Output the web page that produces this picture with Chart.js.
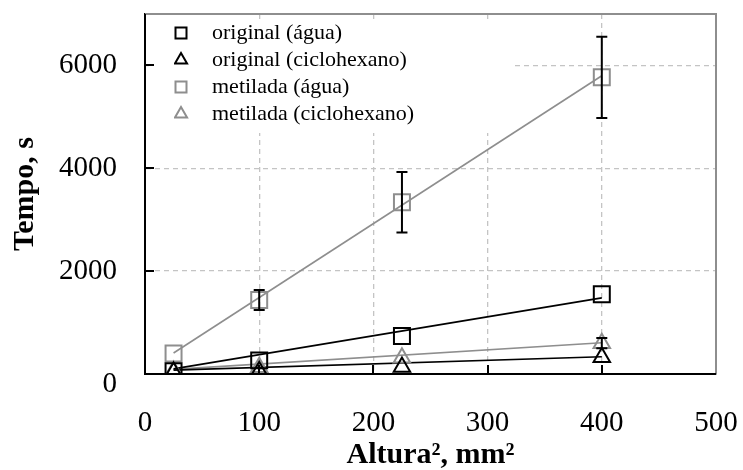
<!DOCTYPE html>
<html>
<head>
<meta charset="utf-8">
<script src="https://cdn.jsdelivr.net/npm/chart.js@4"></script>
<style>
  html, body { margin: 0; padding: 0; background: #fff; }
  #wrap { width: 743px; height: 470px; position: relative; }
</style>
</head>
<body>
<div id="wrap"><canvas id="c"></canvas></div>
<script>
// ---- data ----
const alturas2 = [25, 100, 225, 400];
const originalAgua = [55, 265, 740, 1550];
const originalCiclo = [40, 55, 136, 325];
const metiladaAgua = [400, 1440, 3340, 5770];
const metiladaAguaErr = [0, 195, 590, 790];
const metiladaCiclo = [60, 130, 315, 600];
const metiladaCicloErr = [0, 0, 0, 100];

const fitX = [25, 400];
const fitOriginalAgua = [100, 1480];
const fitOriginalCiclo = [75, 336];
const fitMetiladaAgua = [408, 5800];
const fitMetiladaCiclo = [90, 608];

const seriesLabels = ['original (água)', 'original (ciclohexano)', 'metilada (água)', 'metilada (ciclohexano)'];
const xTickValues = [0, 100, 200, 300, 400, 500];
const yTickValues = [0, 2000, 4000, 6000];
const xTitle = 'Altura², mm²';
const yTitle = 'Tempo, s';

// ---- styles ----
const BLACK = '#000000';
const GRAY = '#8e8e8e';
const SERIF = '"Liberation Serif", "Times New Roman", serif';

const pts = (xs, ys) => xs.map((x, i) => ({ x: x, y: ys[i] }));

function markerSet(label, ys, color, style, errs) {
  return {
    type: 'scatter',
    label: label,
    data: pts(alturas2, ys),
    errors: errs || null,
    showLine: false,
    pointStyle: style,
    pointRadius: style === 'rect' ? 11.3 : 9.5,
    pointBorderWidth: 2,
    pointBorderColor: color,
    pointBackgroundColor: 'rgba(0,0,0,0)',
    borderColor: color,
    backgroundColor: 'rgba(0,0,0,0)',
    borderWidth: 2
  };
}
function fitSet(ys, color) {
  return {
    type: 'line',
    label: '',
    data: pts(fitX, ys),
    borderColor: color,
    borderWidth: 1.6,
    pointRadius: 0,
    fill: false,
    tension: 0
  };
}

const datasets = [
  markerSet(seriesLabels[0], originalAgua, BLACK, 'rect'),
  markerSet(seriesLabels[1], originalCiclo, BLACK, 'triangle'),
  markerSet(seriesLabels[2], metiladaAgua, GRAY, 'rect', metiladaAguaErr),
  markerSet(seriesLabels[3], metiladaCiclo, GRAY, 'triangle', metiladaCicloErr),
  fitSet(fitOriginalAgua, BLACK),
  fitSet(fitOriginalCiclo, BLACK),
  fitSet(fitMetiladaAgua, GRAY),
  fitSet(fitMetiladaCiclo, GRAY)
];

// legend icon: small outlined marker, drawn left of the icon centre so the text sits further right
const ICON_SHIFT = 9;
function legendIcon(style, color) {
  const w = 40, h = 20;
  const cv = document.createElement('canvas');
  cv.width = w; cv.height = h;
  const c = cv.getContext('2d');
  const cx = w / 2 - ICON_SHIFT, cy = h / 2;
  c.strokeStyle = color;
  c.lineWidth = 2;
  c.beginPath();
  if (style === 'rect') {
    c.rect(cx - 5.5, cy - 5.5, 11, 11);
  } else {
    const r = 7;
    c.moveTo(cx, cy - r);
    c.lineTo(cx + r * 0.866, cy + r * 0.5);
    c.lineTo(cx - r * 0.866, cy + r * 0.5);
    c.closePath();
  }
  c.stroke();
  return cv;
}

// move legend inside plot area (library legend, positioned after layout)
const legendPlace = {
  id: 'legendPlace',
  afterLayout(chart) {
    const lg = chart.legend, ca = chart.chartArea;
    if (!lg) return;
    const w = lg.width, h = lg.height;
    lg.left = ca.left + 29;
    lg.top = ca.top + 3;
    lg.right = lg.left + w;
    lg.bottom = lg.top + h;
  }
};

// white panel behind the legend (hides grid lines there), then legend on it
const legendPanel = {
  id: 'legendPanel',
  beforeDatasetsDraw(chart) {
    const lg = chart.legend, ca = chart.chartArea;
    if (!lg || !lg.legendHitBoxes || !lg.legendHitBoxes.length) return;
    const boxes = lg.legendHitBoxes;
    const last = boxes[boxes.length - 1];
    let maxR = 0;
    boxes.forEach(b => { maxR = Math.max(maxR, b.left + b.width); });
    const ctx = chart.ctx;
    ctx.save();
    ctx.fillStyle = '#ffffff';
    const x0 = ca.left + 4, y0 = ca.top + 5;
    ctx.fillRect(x0, y0, (maxR + 100) - x0, (last.top + last.height + 8) - y0);
    ctx.restore();
    lg.draw(ca);
  }
};

// error bars, drawn through the scales
const errorBars = {
  id: 'errorBars',
  afterDatasetsDraw(chart) {
    const xs = chart.scales.x, ys = chart.scales.y, ctx = chart.ctx;
    ctx.save();
    ctx.strokeStyle = BLACK;
    ctx.lineWidth = 2;
    chart.data.datasets.forEach(ds => {
      if (!ds.errors) return;
      ds.data.forEach((p, i) => {
        const e = ds.errors[i];
        if (!e) return;
        const px = xs.getPixelForValue(p.x);
        const pTop = ys.getPixelForValue(p.y + e);
        const pBot = ys.getPixelForValue(p.y - e);
        const cap = 5.5;
        ctx.beginPath();
        ctx.moveTo(px, pTop); ctx.lineTo(px, pBot);
        ctx.moveTo(px - cap, pTop); ctx.lineTo(px + cap, pTop);
        ctx.moveTo(px - cap, pBot); ctx.lineTo(px + cap, pBot);
        ctx.stroke();
      });
    });
    ctx.restore();
  }
};

// inner tick marks and frame
const frame = {
  id: 'frame',
  afterDraw(chart) {
    const ca = chart.chartArea, ctx = chart.ctx;
    const xs = chart.scales.x, ys = chart.scales.y;
    ctx.save();
    ctx.strokeStyle = GRAY;
    ctx.lineWidth = 2;
    ctx.beginPath();
    ctx.moveTo(ca.left, ca.top); ctx.lineTo(ca.right, ca.top); ctx.lineTo(ca.right, ca.bottom);
    ctx.stroke();
    ctx.strokeStyle = BLACK;
    ctx.lineWidth = 2;
    ctx.beginPath();
    xTickValues.forEach(v => {
      if (v <= xs.min || v >= xs.max) return;
      const px = Math.round(xs.getPixelForValue(v));
      ctx.moveTo(px, ca.bottom); ctx.lineTo(px, ca.bottom - 9);
    });
    yTickValues.forEach(v => {
      if (v <= ys.min || v >= ys.max) return;
      const py = Math.round(ys.getPixelForValue(v));
      ctx.moveTo(ca.left, py); ctx.lineTo(ca.left + 9, py);
    });
    ctx.stroke();
    ctx.beginPath();
    ctx.moveTo(ca.left, ca.top); ctx.lineTo(ca.left, ca.bottom); ctx.lineTo(ca.right, ca.bottom);
    ctx.stroke();
    ctx.restore();
  }
};

const gridColor = (ctx) => (ctx.tick && ctx.tick.value === 0) ? 'rgba(0,0,0,0)' : '#c4c4c4';

new Chart(document.getElementById('c'), {
  type: 'scatter',
  data: { datasets: datasets },
  plugins: [legendPlace, legendPanel, errorBars, frame],
  options: {
    responsive: true,
    maintainAspectRatio: false,
    animation: false,
    layout: { padding: { top: 14, right: 27, bottom: 0, left: 0 } },
    plugins: {
      tooltip: { enabled: false },
      legend: {
        display: true,
        position: 'chartArea',
        align: 'start',
        labels: {
          filter: (item) => item.text !== '',
          usePointStyle: true,
          boxWidth: 22,
          boxHeight: 20,
          padding: 5,
          color: BLACK,
          font: { family: SERIF, size: 22 },
          generateLabels: (chart) => {
            const items = Chart.defaults.plugins.legend.labels.generateLabels(chart);
            items.forEach(it => {
              const ds = chart.data.datasets[it.datasetIndex];
              if (ds && ds.label) it.pointStyle = legendIcon(ds.pointStyle, ds.borderColor);
            });
            return items;
          }
        }
      }
    },
    scales: {
      x: {
        type: 'linear',
        min: 0, max: 500,
        afterBuildTicks: (s) => { s.ticks = xTickValues.map(v => ({ value: v })); },
        afterFit: (s) => { s.height = 96; s.paddingLeft = 0; s.paddingRight = 0; },
        border: { display: true, color: BLACK, width: 2, dash: [5, 4] },
        grid: {
          color: gridColor,
          lineWidth: 1.3,
          drawTicks: false
        },
        ticks: {
          padding: 32,
          color: BLACK,
          maxRotation: 0,
          font: { family: SERIF, size: 29 },
          callback: (v) => String(v)
        },
        title: {
          display: true,
          text: xTitle,
          color: BLACK,
          padding: { top: 0, bottom: 0 },
          font: { family: SERIF, size: 30, weight: 'bold', lineHeight: 1 }
        }
      },
      y: {
        type: 'linear',
        min: 0, max: 7000,
        afterBuildTicks: (s) => { s.ticks = yTickValues.map(v => ({ value: v })); },
        afterFit: (s) => { s.width = 145; s.paddingTop = 0; s.paddingBottom = 0; },
        border: { display: true, color: BLACK, width: 2, dash: [5, 4] },
        grid: {
          color: gridColor,
          lineWidth: 1.3,
          drawTicks: false
        },
        ticks: {
          padding: 28,
          color: BLACK,
          font: { family: SERIF, size: 29, lineHeight: 0.7 },
          callback: (v) => v === 0 ? ['', '0'] : String(v)
        },
        title: {
          display: true,
          text: yTitle,
          color: BLACK,
          padding: { top: 10, bottom: 0 },
          font: { family: SERIF, size: 30, weight: 'bold', lineHeight: 1 }
        }
      }
    }
  }
});
</script>
</body>
</html>
